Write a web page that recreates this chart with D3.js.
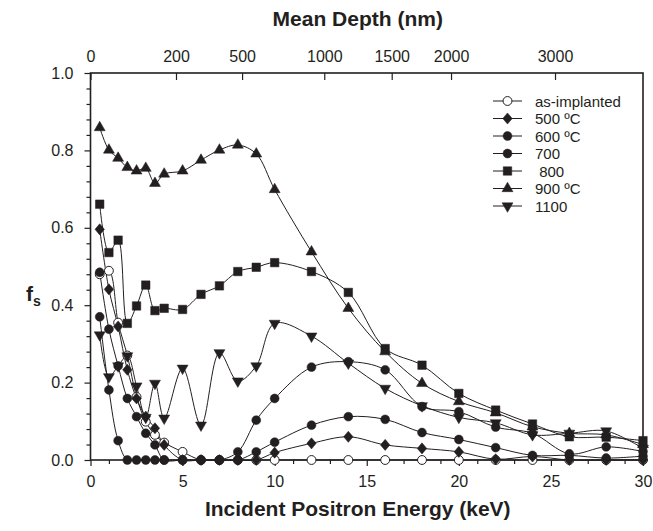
<!DOCTYPE html>
<html>
<head>
<meta charset="utf-8">
<script src="https://cdn.jsdelivr.net/npm/d3@7"></script>
<style>
  body { margin: 0; background: #fff; }
  svg { font-family: "Liberation Sans", Arial, sans-serif; }
</style>
</head>
<body>
<svg id="chart" width="653" height="531"></svg>
<script>
const energy = [0.5, 1, 1.5, 2, 2.5, 3, 3.5, 4, 5, 6, 7, 8, 9, 10, 12, 14, 16, 18, 20, 22, 24, 26, 28, 30]

const asImplanted = [0.48, 0.489, 0.355, 0.27, 0.163, 0.099, 0.065, 0.045, 0.021, 0, 0, 0, 0, 0, 0, 0, 0, 0, 0, 0, 0, 0, 0, 0]
const s500 = [0.596, 0.441, 0.345, 0.233, 0.159, 0.112, 0.082, 0.039, 0, 0, 0, 0, 0, 0.019, 0.043, 0.060, 0.039, 0.030, 0.021, 0.002, 0.009, 0, 0, 0]
const s600 = [0.485, 0.338, 0.243, 0.159, 0.112, 0.069, 0.039, 0, 0, 0, 0, 0, 0.021, 0.046, 0.090, 0.112, 0.105, 0.071, 0.053, 0.032, 0.012, 0.012, 0.005, 0.010]
const s700 = [0.370, 0.181, 0.050, 0, 0, 0, 0, 0, 0, 0, 0, 0.021, 0.103, 0.159, 0.240, 0.254, 0.233, 0.138, 0.125, 0.085, 0.069, 0.016, 0.034, 0.022]
const s800 = [0.661, 0.536, 0.568, 0.353, 0.398, 0.452, 0.386, 0.392, 0.389, 0.428, 0.450, 0.487, 0.498, 0.510, 0.487, 0.433, 0.288, 0.245, 0.172, 0.129, 0.093, 0.060, 0.059, 0.050]
const s900 = [0.859, 0.801, 0.780, 0.756, 0.747, 0.754, 0.715, 0.739, 0.747, 0.775, 0.801, 0.814, 0.791, 0.699, 0.538, 0.392, 0.280, 0.198, 0.151, 0.122, 0.086, 0.069, 0.065, 0.040]
const s1100 = [0.323, 0.215, 0.243, 0.269, 0.191, 0.110, 0.198, 0.108, 0.237, 0.090, 0.277, 0.204, 0.243, 0.353, 0.320, 0.250, 0.185, 0.140, 0.110, 0.096, 0.065, 0.069, 0.075, 0.030]

const seriesLabels = ["as-implanted", "500 ºC", "600 ºC", "700", " 800", "900 ºC", "1100"]
const seriesMarkers = ["openCircle", "diamond", "circle", "circle", "square", "triangleUp", "triangleDown"]

const xTicks = [0, 5, 10, 15, 20, 25, 30]
const yTicks = [0, 0.2, 0.4, 0.6, 0.8, 1.0]
const depthTicks = [0, 200, 500, 1000, 1500, 2000, 3000]

// mean depth (nm) = depthCoef * E^depthExp
const depthCoef = 17.15
const depthExp = 1.6

const ink = "#231f20"
const margin = { top: 73, right: 10, bottom: 71, left: 90.5 }
const width = 653 - margin.left - margin.right
const height = 531 - margin.top - margin.bottom

const svg = d3.select("#chart")
const g = svg.append("g").attr("transform", `translate(${margin.left},${margin.top})`)

const x = d3.scaleLinear().domain([0, 30]).range([0, width])
const y = d3.scaleLinear().domain([0, 1]).range([height, 0])
const xTop = d3.scalePow()
  .exponent(1 / depthExp)
  .domain([0, depthCoef * Math.pow(30, depthExp)])
  .range([0, width])

// minor ticks
const xMinor = d3.range(0, 31, 1).filter(v => v % 5 !== 0)
const yMinor = d3.range(0, 1.001, 0.04).map(v => +v.toFixed(2)).filter(v => Math.round(v * 100) % 20 !== 0)

const styleAxis = sel => {
  sel.select(".domain").remove()
  sel.selectAll("line").attr("stroke", ink).attr("stroke-width", 1.2)
  sel.selectAll("text").attr("fill", ink).style("font-size", "16px")
}

g.append("g")
  .attr("transform", `translate(0,${height})`)
  .call(d3.axisBottom(x).tickValues(xMinor).tickSize(4).tickFormat(""))
  .call(styleAxis)

g.append("g")
  .attr("transform", `translate(0,${height})`)
  .call(d3.axisBottom(x).tickValues(xTicks).tickSize(6).tickPadding(10).tickFormat(d3.format("d")))
  .call(styleAxis)

g.append("g")
  .call(d3.axisLeft(y).tickValues(yMinor).tickSize(4).tickFormat(""))
  .call(styleAxis)

g.append("g")
  .call(d3.axisLeft(y).tickValues(yTicks).tickSize(6).tickPadding(11).tickFormat(d3.format(".1f")))
  .call(styleAxis)

g.append("g")
  .call(d3.axisTop(xTop).tickValues(depthTicks).tickSizeInner(-7).tickSizeOuter(0).tickPadding(11).tickFormat(d3.format("d")))
  .call(styleAxis)

// frame
g.append("rect")
  .attr("width", width)
  .attr("height", height)
  .attr("fill", "none")
  .attr("stroke", ink)
  .attr("stroke-width", 1.6)

// titles
svg.append("text")
  .attr("x", margin.left + width / 2 - 9)
  .attr("y", 26)
  .attr("text-anchor", "middle")
  .style("font-size", "21px")
  .style("font-weight", "bold")
  .attr("fill", ink)
  .text("Mean Depth (nm)")

svg.append("text")
  .attr("x", margin.left + width / 2 - 9)
  .attr("y", 516)
  .attr("text-anchor", "middle")
  .style("font-size", "21px")
  .style("font-weight", "bold")
  .attr("fill", ink)
  .text("Incident Positron Energy (keV)")

const fLabel = svg.append("text")
  .attr("x", 26)
  .attr("y", 301)
  .style("font-size", "21px")
  .style("font-weight", "bold")
  .attr("fill", ink)
fLabel.append("tspan").text("f")
fLabel.append("tspan").attr("dy", 5).style("font-size", "14px").text("s")

// marker shapes
const diamond = {
  draw(ctx, size) {
    const h = Math.sqrt(size) * 0.62
    const w = h * 0.85
    ctx.moveTo(0, -h)
    ctx.lineTo(w, 0)
    ctx.lineTo(0, h)
    ctx.lineTo(-w, 0)
    ctx.closePath()
  }
}

const markerPath = (kind) => {
  if (kind === "openCircle" || kind === "circle") return d3.symbol(d3.symbolCircle, 62)()
  if (kind === "diamond") return d3.symbol(diamond, 80)()
  if (kind === "square") return d3.symbol(d3.symbolSquare, 72)()
  return d3.symbol(d3.symbolTriangle, 52)()
}

const drawMarker = (sel, kind, cx, cy) => {
  sel.append("path")
    .attr("d", markerPath(kind))
    .attr("transform", `translate(${cx},${cy})` + (kind === "triangleDown" ? " rotate(180)" : ""))
    .attr("fill", kind === "openCircle" ? "#fff" : ink)
    .attr("stroke", ink)
    .attr("stroke-width", kind === "openCircle" ? 1 : 0.5)
}

const allSeries = [asImplanted, s500, s600, s700, s800, s900, s1100]

const line = d3.line()
  .x((d, i) => x(energy[i]))
  .y(d => y(d))
  .curve(d3.curveCatmullRom.alpha(0.5))

allSeries.forEach(vals => {
  g.append("path")
    .datum(vals)
    .attr("d", line)
    .attr("fill", "none")
    .attr("stroke", ink)
    .attr("stroke-width", 1)
})

allSeries.forEach((vals, si) => {
  const mg = g.append("g")
  vals.forEach((v, i) => drawMarker(mg, seriesMarkers[si], x(energy[i]), y(v)))
})

// legend
const legend = svg.append("g").attr("transform", "translate(493,101)")
seriesLabels.forEach((label, i) => {
  const row = legend.append("g").attr("transform", `translate(0,${i * 17.5})`)
  row.append("line")
    .attr("x1", 0).attr("x2", 29)
    .attr("stroke", ink).attr("stroke-width", 1)
  drawMarker(row, seriesMarkers[i], 14.5, 0)
  row.append("text")
    .attr("x", 42)
    .attr("y", 5.5)
    .style("font-size", "15px")
    .style("white-space", "pre")
    .attr("fill", ink)
    .text(label)
})
</script>
</body>
</html>
